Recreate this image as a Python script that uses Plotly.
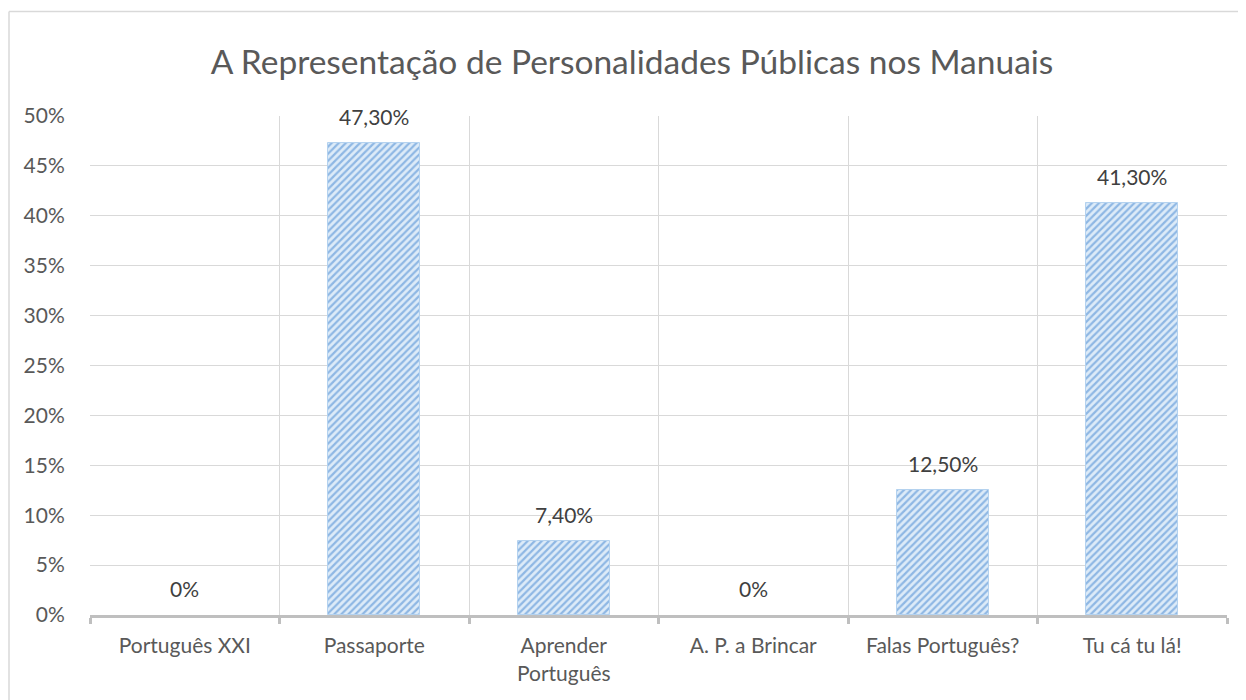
import plotly.graph_objects as go

categories = ["Português XXI", "Passaporte", "Aprender<br>Português", "A. P. a Brincar", "Falas Português?", "Tu cá tu lá!"]
values = [0.0, 0.473, 0.074, 0.0, 0.125, 0.413]
labels = ["0%", "47,30%", "7,40%", "0%", "12,50%", "41,30%"]
yticks = [0, 0.05, 0.10, 0.15, 0.20, 0.25, 0.30, 0.35, 0.40, 0.45, 0.50]
ytext = ["0%", "5%", "10%", "15%", "20%", "25%", "30%", "35%", "40%", "45%", "50%"]

xpos = list(range(len(categories)))
FONT = "Lato"
OFF = 8  # page body margin

fig = go.Figure()
fig.add_trace(go.Bar(
    x=xpos, y=values, width=0.485,
    marker=dict(
        color="#DDEBF7",
        line=dict(color="#B4D2EF", width=[0 if v == 0 else 1 for v in values]),
        pattern=dict(shape="/", fgcolor="#3F83D0", bgcolor="#DDEBF8", size=5, solidity=0.45),
    ),
    hoverinfo="skip",
))

for x, v, t in zip(xpos, values, labels):
    fig.add_annotation(x=x, y=v, text=t, showarrow=False, yanchor="bottom", yshift=12,
                       font=dict(family=FONT, size=21, color="#404040"))

W, H = 1246 - OFF, 700 - OFF
ml, mt = 90 - OFF, 116 - OFF
mr = W - (1227 - OFF)
mb = H - (615 - OFF)
pw, ph = W - ml - mr, H - mt - mb
fx = lambda px: (px - OFF - ml) / pw
fy = lambda py: (H - mb - (py - OFF)) / ph

# outer chart border (left and top visible)
fig.add_shape(type="line", xref="paper", yref="paper", x0=fx(9), x1=fx(1300), y0=fy(11.5), y1=fy(11.5),
              line=dict(color="#D9D9D9", width=1.5))
fig.add_shape(type="line", xref="paper", yref="paper", x0=fx(9), x1=fx(9), y0=fy(11.5), y1=fy(760),
              line=dict(color="#D9D9D9", width=1.5))

fig.update_layout(
    width=W, height=H,
    margin=dict(l=ml, r=mr, t=mt, b=mb),
    paper_bgcolor="white", plot_bgcolor="white",
    showlegend=False,
    bargap=0,
    title=dict(text="A Representação de Personalidades Públicas nos Manuais",
               x=(632 - OFF) / W, xref="container", xanchor="center", y=1 - (62 - OFF) / H, yanchor="middle",
               font=dict(family=FONT, size=33.5, color="#595959")),
    font=dict(family=FONT, color="#595959"),
    xaxis=dict(
        range=[-0.5, 5.5], tickmode="array", tickvals=xpos, ticktext=categories,
        showgrid=False, ticks="outside", ticklen=10, tickcolor="rgba(0,0,0,0)", zeroline=False,
        tickfont=dict(family=FONT, size=21, color="#595959"),
        showline=True, linecolor="#BFBFBF", linewidth=3,
        minor=dict(tickvals=[i - 0.5 for i in range(7)], showgrid=True, gridcolor="#D9D9D9",
                   gridwidth=1, ticks="outside", ticklen=6, tickcolor="#BFBFBF", tickwidth=3),
        fixedrange=True,
    ),
    yaxis=dict(
        range=[0, 0.5], tickmode="array", tickvals=yticks, ticktext=ytext,
        showgrid=True, gridcolor="#D9D9D9", gridwidth=1, zeroline=False,
        ticks="outside", ticklen=20, tickcolor="rgba(0,0,0,0)",
        tickfont=dict(family=FONT, size=21, color="#595959"),
        showline=False, fixedrange=True,
    ),
)

fig.write_html("out.html")
